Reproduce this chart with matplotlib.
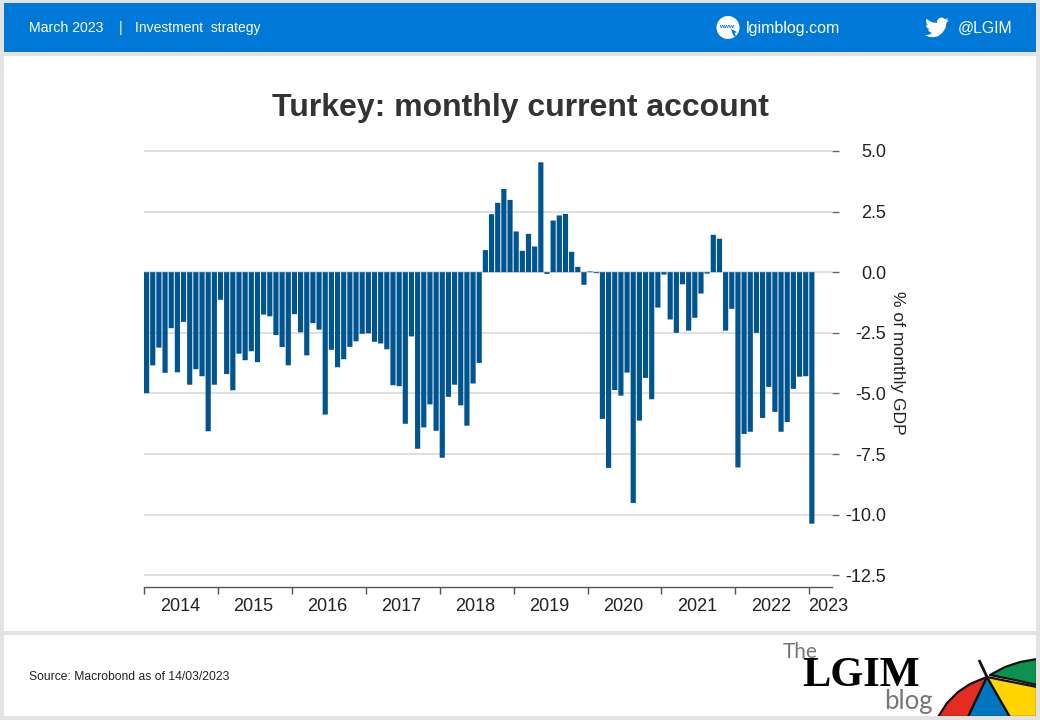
import matplotlib
matplotlib.use("Agg")
import matplotlib.pyplot as plt
from matplotlib.patches import Rectangle, Polygon, Circle

plt.rcParams['font.family'] = ['Liberation Sans', 'DejaVu Sans']

values = [
    -4.99, -3.84, -3.11, -4.15, -2.31, -4.13, -2.05, -4.64, -4.00, -4.29, -6.56, -4.64,
    -1.14, -4.20, -4.87, -3.36, -3.63, -3.26, -3.71, -1.75, -1.82, -2.59, -3.09, -3.84,
    -1.73, -2.48, -3.43, -2.10, -2.37, -5.87, -3.20, -3.92, -3.59, -3.08, -2.85, -2.54,
    -2.52, -2.87, -2.94, -3.18, -4.66, -4.70, -6.25, -2.65, -7.28, -6.40, -5.45, -6.54,
    -7.65, -5.14, -4.64, -5.49, -6.33, -4.59, -3.74, 0.91, 2.39, 2.86, 3.43, 2.98,
    1.68, 0.88, 1.58, 1.06, 4.53, -0.07, 2.13, 2.34, 2.40, 0.84, 0.22, -0.52,
    0.03, -0.04, -6.05, -8.07, -4.86, -5.09, -4.14, -9.52, -6.12, -4.36, -5.24, -1.46,
    -0.10, -1.95, -2.50, -0.50, -2.41, -1.88, -0.88, -0.06, 1.54, 1.38, -2.41, -1.51,
    -8.05, -6.67, -6.58, -2.50, -6.01, -4.73, -5.76, -6.58, -6.18, -4.81, -4.31, -4.29,
    -10.37,
]
months = list(range(len(values)))
year_starts = [0, 12, 24, 36, 48, 60, 72, 84, 96, 108]
year_label_pos = [5.8, 17.8, 29.8, 41.8, 53.8, 65.8, 77.8, 89.8, 101.8, 111]
year_labels = ['2014', '2015', '2016', '2017', '2018', '2019', '2020', '2021', '2022', '2023']
y_ticks = [5.0, 2.5, 0.0, -2.5, -5.0, -7.5, -10.0, -12.5]
y_labels = ['5.0', '2.5', '0.0', '-2.5', '-5.0', '-7.5', '-10.0', '-12.5']

W, H = 1040, 720
BLUE = '#0078d7'
BAR = '#00548f'

fig = plt.figure(figsize=(W / 100, H / 100), dpi=100, facecolor='#e3e3e3')

# page furniture in pixel coordinates
bg = fig.add_axes([0, 0, 1, 1], zorder=0)
bg.set_xlim(0, W)
bg.set_ylim(H, 0)
bg.axis('off')
bg.add_patch(Rectangle((4, 3), 1032, 49, fc=BLUE, ec='none'))
bg.add_patch(Rectangle((4, 56), 1032, 575, fc='white', ec='none'))
footer = Rectangle((4, 635), 1032, 81, fc='white', ec='none')
bg.add_patch(footer)

bg.text(29, 28, 'March 2023', color='white', fontsize=10.2, va='center')
bg.text(121, 28, '|', color='white', fontsize=10, va='center', ha='center')
bg.text(135, 28, 'Investment  strategy', color='white', fontsize=10, va='center')
bg.text(746, 28.5, 'lgimblog.com', color='white', fontsize=11.5, va='center')
bg.text(958, 28.5, '@LGIM', color='white', fontsize=11.4, va='center')

bg.add_patch(Circle((728, 27.5), 11.5, fc='white', ec='none'))
bg.text(727, 26.5, 'www', color=BLUE, fontsize=4.6, fontweight='bold', ha='center', va='center')
bg.add_patch(Polygon([(731, 29), (737, 32), (734.5, 33), (736, 36), (734, 36.5), (732.5, 33.5)],
                     closed=True, fc=BLUE, ec='none'))

bird = [(23.95, 4.57), (21.13, 5.35), (23.29, 2.62), (20.16, 3.81), (18.5, 2.5), (16.5, 1.95),
        (14.0, 2.8), (12.2, 5.0), (11.9, 7.4), (7.7, 6.9), (4.4, 5.4), (1.64, 3.16), (0.97, 5.64),
        (1.6, 8.0), (3.16, 9.73), (0.93, 9.12), (1.7, 12.0), (4.88, 14.0), (2.67, 14.09),
        (4.6, 16.5), (7.27, 17.5), (4.0, 19.2), (1.17, 19.6), (0, 19.54), (3.6, 21.2), (7.56, 21.75),
        (12.5, 21.0), (17.0, 17.8), (20.3, 13.0), (21.54, 7.36), (24, 4.59)]
sx, sy = 925, 15.5
bg.add_patch(Polygon([(sx + px, sy + py) for px, py in bird], closed=True, fc='white', ec='none'))

bg.text(29, 676.5, 'Source: Macrobond as of 14/03/2023', color='#222222', fontsize=8.7, va='center')

# logo
bg.text(783, 652.5, 'The', color='#777777', fontsize=15, va='center', family='Lato')
bg.text(802, 676, 'LGIM', color='black', fontsize=30.5, va='center',
        family='Liberation Serif', fontweight='bold')
bg.text(884, 702, 'blog', color='#777777', fontsize=18.5, va='center', family='Lato')

apex = (987, 677)
wedges = [
    ('#e42c20', [apex, (968, 717), (938, 717), (947, 703), (958, 692), (970, 684), (982, 679)]),
    ('#0075bf', [apex, (1010, 717), (968, 717)]),
    ('#ffd400', [apex, (1037, 687), (1037, 717), (1010, 717)]),
    ('#0b9150', [(990, 675), (1005, 667), (1020, 662), (1037, 659), (1037, 685), (1015, 680)]),
]
for colour, pts in wedges:
    p = Polygon(pts, closed=True, fc=colour, ec='#111111', lw=1.6, joinstyle='round')
    bg.add_patch(p)
    p.set_clip_path(footer)
bg.plot([979, 987], [660, 677], color='#111111', lw=2.0, solid_capstyle='butt')

# chart axes: left 144 px, right 832 px, top 140 px, bottom 586.5 px
L, R, T, B = 144, 832, 140, 586.5
ax = fig.add_axes([L / W, 1 - B / H, (R - L) / W, (B - T) / H], zorder=1)
ax.patch.set_alpha(0)
ax.set_xlim(0, (R - L) / 6.16)
ax.set_ylim(-12.96, 5.45)

bars = ax.bar(months, values, width=0.84, align='edge', color=BAR, edgecolor='none', zorder=3)
for b in bars:
    b.set_snap(False)

ax.set_yticks(y_ticks)
ax.set_yticklabels(y_labels)
ax.grid(axis='y', color='#dcdcdc', lw=1.3, zorder=1)
ax.set_axisbelow(True)
ax.yaxis.tick_right()
ax.tick_params(axis='y', length=5, width=1.0, color='#666666', labelcolor='#222222',
               labelsize=13, pad=33.8)
for lab in ax.get_yticklabels():
    lab.set_ha('right')

ax.set_xticks(year_starts)
ax.set_xticklabels([])
ax.set_xticks(year_label_pos, minor=True)
ax.set_xticklabels(year_labels, minor=True)
ax.tick_params(axis='x', which='major', length=5, width=1.0, color='#555555')
ax.tick_params(axis='x', which='minor', length=0, labelsize=13, labelcolor='#222222', pad=8.5)

for s in ['top', 'left', 'right']:
    ax.spines[s].set_visible(False)
ax.spines['bottom'].set_color('#555555')
ax.spines['bottom'].set_linewidth(1.0)

bg.text(520, 108, 'Turkey: monthly current account', color='#333333', fontsize=23,
        fontweight='bold', ha='center', va='center')
bg.text(898, 363, '% of monthly GDP', color='#222222', fontsize=12.6, rotation=270,
        ha='center', va='center')

fig.savefig('out.png', dpi=100, facecolor=fig.get_facecolor())
